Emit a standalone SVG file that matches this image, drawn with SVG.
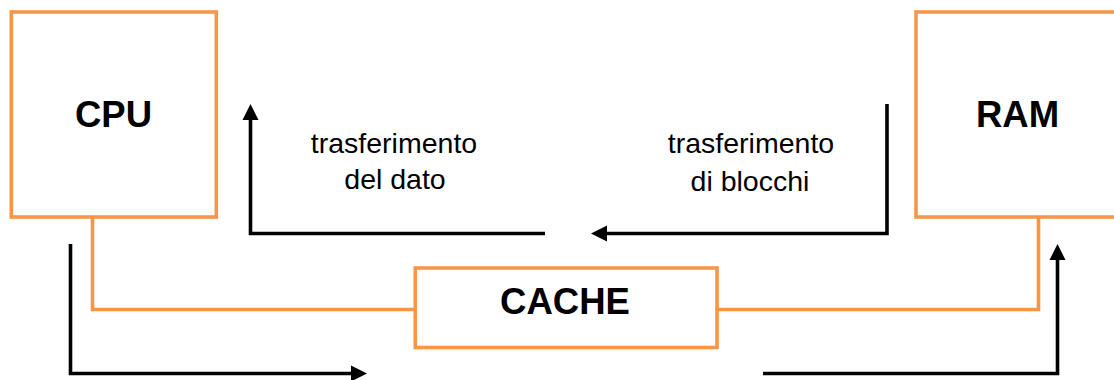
<svg xmlns="http://www.w3.org/2000/svg" width="1114" height="380" viewBox="0 0 1114 380">
<style>
.box{fill:#ffffff;stroke:#F79646;stroke-width:3.6}
.wire{fill:none;stroke:#F79646;stroke-width:3.6}
.arr{fill:none;stroke:#000000;stroke-width:3.6;stroke-linejoin:miter}
.title{font-family:"Liberation Sans",Arial,sans-serif;font-weight:bold;font-size:36.5px;fill:#000;text-anchor:middle}
.lbl{font-family:"Liberation Sans",Arial,sans-serif;font-size:28.5px;fill:#000;text-anchor:middle}
</style>
<defs>
<marker id="ah" markerUnits="userSpaceOnUse" markerWidth="18" markerHeight="18" viewBox="0 -9 18 18" refX="0" refY="0" orient="auto">
<path d="M0,-8 L16,0 L0,8 z" fill="#000"/>
</marker>
</defs>
<g id="connectors">
<polyline class="wire" points="92.5,218 92.5,309.5 415,309.5"/>
<polyline class="wire" points="717,309.5 1038.5,309.5 1038.5,217"/>
<polyline class="arr" points="545,233.5 250.5,233.5 250.5,120" marker-end="url(#ah)"/>
<polyline class="arr" points="887,104 887,233.5 607,233.5" marker-end="url(#ah)"/>
<polyline class="arr" points="70.5,244 70.5,373.5 351,373.5" marker-end="url(#ah)"/>
<polyline class="arr" points="763,373.5 1057.5,373.5 1057.5,260" marker-end="url(#ah)"/>
</g>
<g id="cpu">
<rect class="box" x="11.3" y="12" width="205" height="205"/>
<text class="title" x="113.5" y="127">CPU</text>
</g>
<g id="ram">
<rect class="box" x="916" y="12" width="220" height="205"/>
<text class="title" x="1017.5" y="127">RAM</text>
</g>
<g id="cache">
<rect class="box" x="415.3" y="268" width="301.7" height="79.5"/>
<text class="title" x="565" y="314">CACHE</text>
</g>
<g id="label-dato">
<text class="lbl" x="394" y="153">trasferimento</text>
<text class="lbl" x="395" y="189">del dato</text>
</g>
<g id="label-blocchi">
<text class="lbl" x="751" y="153">trasferimento</text>
<text class="lbl" x="750" y="191">di blocchi</text>
</g>
</svg>
